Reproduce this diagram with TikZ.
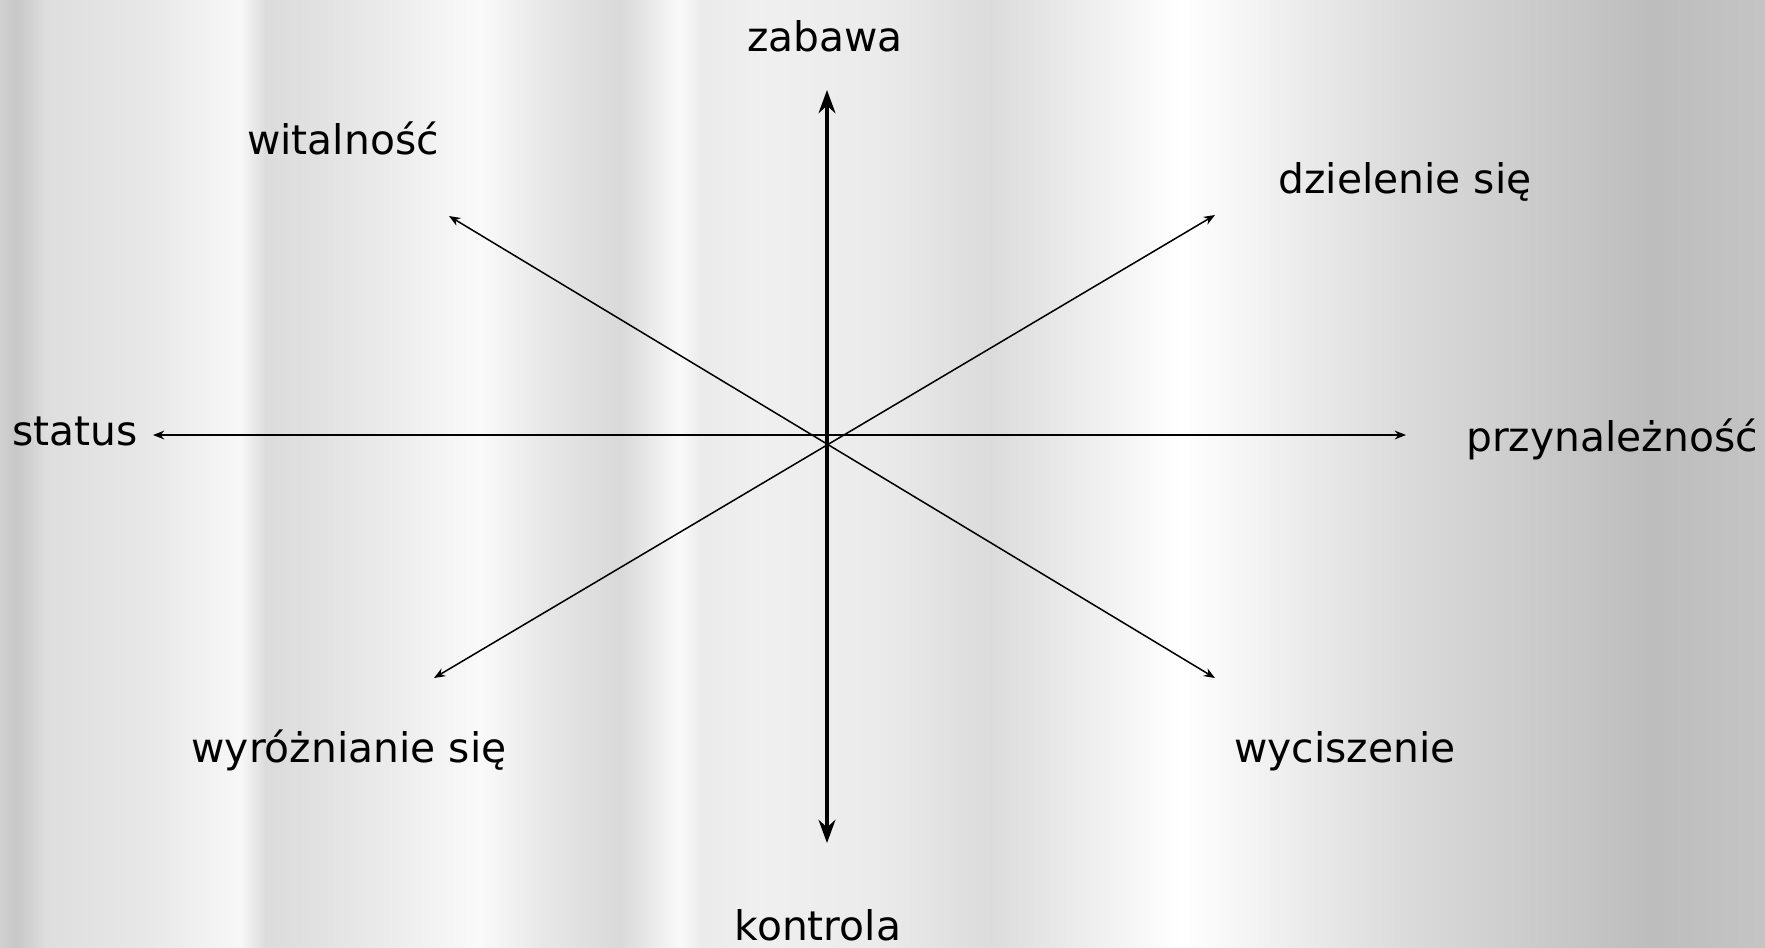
\documentclass[tikz,border=0pt]{standalone}
\usepackage{fontspec}
\setmainfont{DejaVu Sans}
\usetikzlibrary{arrows.meta}

\begin{document}
\begin{tikzpicture}[x=0.01cm,y=-0.01cm,>=Stealth,
    lbl/.style={anchor=base,inner sep=0pt,font=\fontsize{11.6}{14}\selectfont},
    ray/.style={<->,line width=0.43pt,>={Stealth[length=3.2pt,width=2.5pt]}},
    mainaxis/.style={<->,line width=0.95pt,>={Stealth[length=6.6pt,width=4.8pt]}}]
    \useasboundingbox (0,0) rectangle (1765,947);

    % Background (metallic stripes)
    \foreach \xa/\ga/\xb/\gb in {0/82/15/78, 15/78/45/87, 45/87/150/91, 150/91/240/97,
        240/97/265/86, 265/86/330/89, 330/89/400/93, 400/93/480/98, 480/98/540/91,
        540/91/620/85, 620/85/680/98, 680/98/700/92, 700/92/760/94, 760/94/880/92,
        880/92/990/86, 990/86/1180/100, 1180/100/1400/86, 1400/86/1650/74, 1650/74/1765/77}
        \fill[left color=white!\ga!black, right color=white!\gb!black] (\xa,0) rectangle (\xb+1,947);

    % Arrow ends
    \coordinate (top) at (827,90);
    \coordinate (bot) at (827,843);
    \coordinate (lft) at (153,435);
    \coordinate (rgt) at (1406,435);
    \coordinate (nw) at (449,216);
    \coordinate (se) at (1215,678);
    \coordinate (ne) at (1215,215);
    \coordinate (sw) at (434,678);

    % Axes
    \draw[mainaxis] (bot) -- (top);
    \draw[ray] (lft) -- (rgt);
    \draw[ray] (nw) -- (se);
    \draw[ray] (sw) -- (ne);

    % Labels
    \node[lbl] (zabawa) at (825,51) {zabawa};
    \node[lbl] (kontrola) at (818,940) {kontrola};
    \node[lbl] (status) at (75,445) {status};
    \node[lbl] (przyn) at (1612,451) {przynależność};
    \node[lbl] (wital) at (343,154) {witalność};
    \node[lbl] (dziel) at (1405,193) {dzielenie się};
    \node[lbl] (wyroz) at (349,762) {wyróżnianie się};
    \node[lbl] (wycisz) at (1345,762) {wyciszenie};
\end{tikzpicture}
\end{document}
